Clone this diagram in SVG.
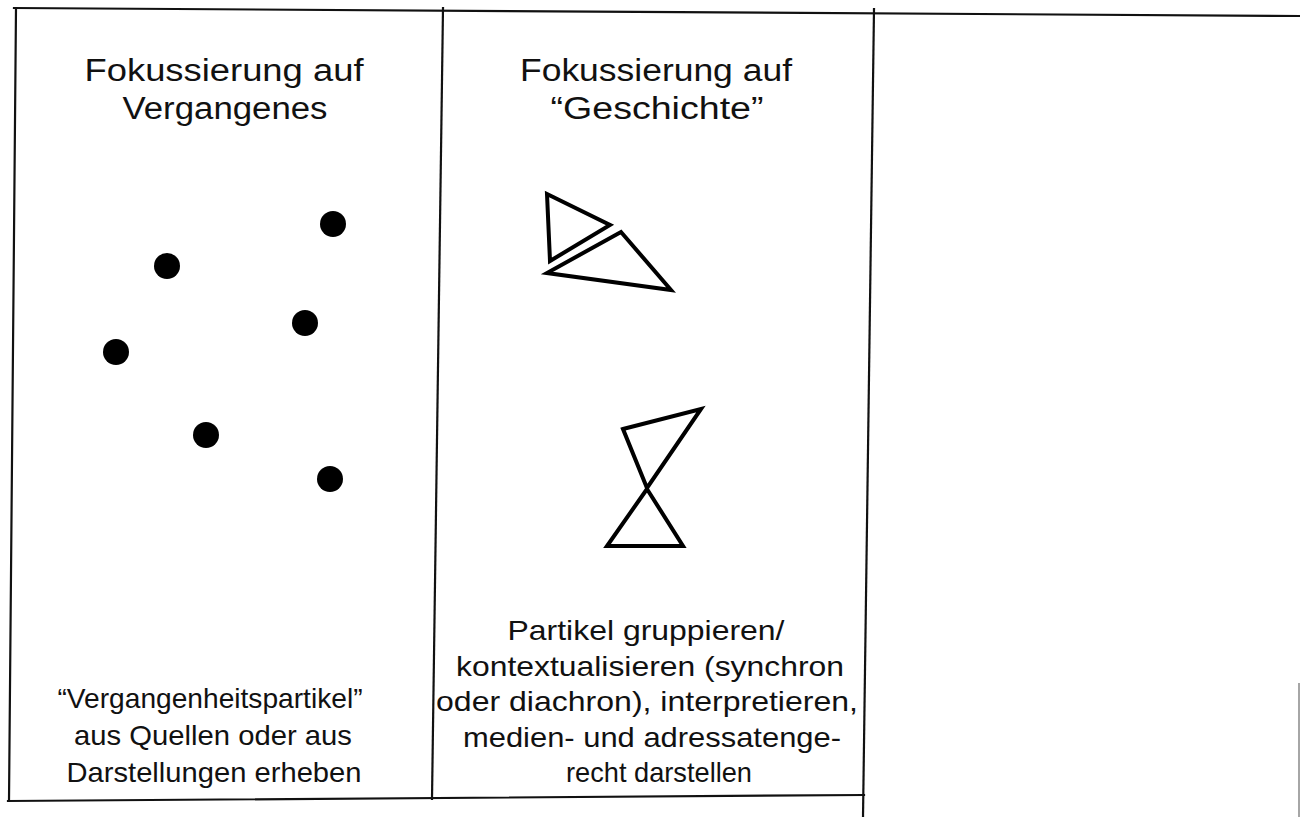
<svg xmlns="http://www.w3.org/2000/svg" width="1300" height="817" viewBox="0 0 1300 817">
<style>
.frame{stroke:#111;stroke-width:2.2;fill:none;stroke-linecap:square}
.t{font-family:"Liberation Sans",Arial,sans-serif;fill:#111;text-anchor:middle}
.h{font-size:31px}
.b{font-size:28px}
.tri{fill:none;stroke:#000;stroke-width:4;stroke-linejoin:miter}
.dot{fill:#000}
</style>
<rect width="1300" height="817" fill="#fff"/>
<g id="frame">
<line class="frame" x1="14" y1="8" x2="1300" y2="16"/>
<line class="frame" x1="16" y1="8" x2="9" y2="801"/>
<line class="frame" x1="443" y1="8" x2="432" y2="799"/>
<line class="frame" x1="874" y1="9" x2="863" y2="817"/>
<line class="frame" x1="8" y1="801" x2="864" y2="795"/>
<line x1="1299" y1="683" x2="1299" y2="817" stroke="#888" stroke-width="1.5"/>
</g>
<g id="col1">
<text class="t h" x="224" y="81" textLength="279" lengthAdjust="spacingAndGlyphs">Fokussierung auf</text>
<text class="t h" x="225" y="119" textLength="205" lengthAdjust="spacingAndGlyphs">Vergangenes</text>
<g id="particles">
<circle class="dot" cx="333" cy="224" r="13"/>
<circle class="dot" cx="167" cy="266" r="13"/>
<circle class="dot" cx="305" cy="323" r="13"/>
<circle class="dot" cx="116" cy="352" r="13"/>
<circle class="dot" cx="206" cy="435" r="13"/>
<circle class="dot" cx="330" cy="479" r="13"/>
</g>
<text class="t b" x="210" y="708" textLength="305" lengthAdjust="spacingAndGlyphs">“Vergangenheitspartikel”</text>
<text class="t b" x="213" y="745" textLength="278" lengthAdjust="spacingAndGlyphs">aus Quellen oder aus</text>
<text class="t b" x="214" y="782" textLength="295" lengthAdjust="spacingAndGlyphs">Darstellungen erheben</text>
</g>
<g id="col2">
<text class="t h" x="656" y="81" textLength="272" lengthAdjust="spacingAndGlyphs">Fokussierung auf</text>
<text class="t h" x="657" y="119" textLength="213" lengthAdjust="spacingAndGlyphs">“Geschichte”</text>
<g id="group-synchron">
<polygon class="tri" points="547,194 610,225 550,261"/>
<polygon class="tri" points="621,232 671,290 547,273"/>
</g>
<g id="group-diachron">
<polygon class="tri" points="623,429 701,409 647,488"/>
<polygon class="tri" points="647,489 607,546 683,546"/>
</g>
<text class="t b" x="646" y="640" textLength="277" lengthAdjust="spacingAndGlyphs">Partikel gruppieren/</text>
<text class="t b" x="650" y="676" textLength="388" lengthAdjust="spacingAndGlyphs">kontextualisieren (synchron</text>
<text class="t b" x="647" y="711" textLength="422" lengthAdjust="spacingAndGlyphs">oder diachron), interpretieren,</text>
<text class="t b" x="652" y="747" textLength="378" lengthAdjust="spacingAndGlyphs">medien- und adressatenge-</text>
<text class="t b" x="659" y="782" textLength="186" lengthAdjust="spacingAndGlyphs">recht darstellen</text>
</g>
</svg>
